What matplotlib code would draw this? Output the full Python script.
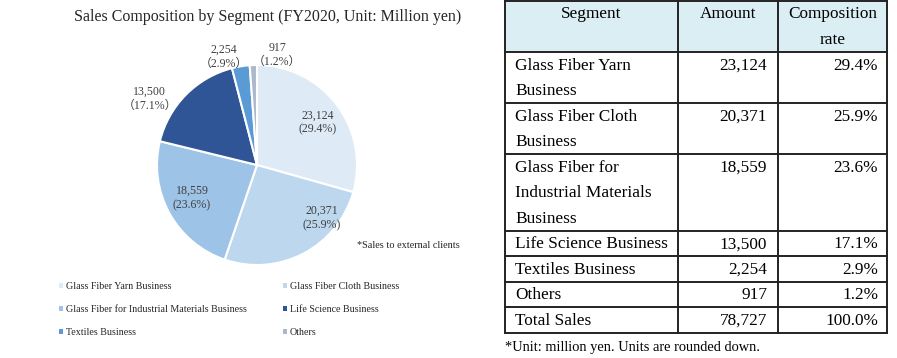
import numpy as np
import matplotlib
matplotlib.use("Agg")
from matplotlib import pyplot as plt
from matplotlib.patches import Patch, Rectangle

plt.rcParams['font.family'] = ['Liberation Serif', 'Noto Sans CJK JP']

segments = ["Glass Fiber Yarn Business", "Glass Fiber Cloth Business",
            "Glass Fiber for Industrial Materials Business", "Life Science Business",
            "Textiles Business", "Others"]
amounts = [23124, 20371, 18559, 13500, 2254, 917]
rates = [29.4, 25.9, 23.6, 17.1, 2.9, 1.2]

# table rows (segment name split into lines as in the source)
table_names = [["Glass Fiber Yarn", "Business"], ["Glass Fiber Cloth", "Business"],
               ["Glass Fiber for", "Industrial Materials", "Business"],
               ["Life Science Business"], ["Textiles Business"], ["Others"], ["Total Sales"]]
table_amounts = ["23,124", "20,371", "18,559", "13,500", "2,254", "917", "78,727"]
table_rates = ["29.4%", "25.9%", "23.6%", "17.1%", "2.9%", "1.2%", "100.0%"]

colors = ["#DEEBF7", "#BDD7EE", "#9DC3E6", "#2F5597", "#5B9BD5", "#ADB9CA"]
# label placement (radius fraction, angle shift in degrees) per slice
lab_r = [0.74, 0.84, 0.73, 1.26, 1.13, 1.12]
lab_shift = [-2, 23, -1.5, 13, 7.5, -12.5]
fullwidth = [False, False, False, True, True, True]

W, H = 897, 358
fig = plt.figure(figsize=(W / 100, H / 100), dpi=100)

# ---- pie ----
cx, cy, half = 257, 193, 120
ax = fig.add_axes([(cx - half) / W, (cy - half) / H, 2 * half / W, 2 * half / H])
wedges, _ = ax.pie(amounts, colors=colors, startangle=90, counterclock=False,
                   radius=1.0, wedgeprops=dict(edgecolor="white", linewidth=1.5))
ax.set_xlim(-1.2, 1.2)
ax.set_ylim(-1.2, 1.2)
ax.set_aspect("equal")
ax.axis("off")

for i, w in enumerate(wedges):
    ang = np.deg2rad((w.theta1 + w.theta2) / 2 + lab_shift[i])
    x, y = lab_r[i] * np.cos(ang), lab_r[i] * np.sin(ang)
    if fullwidth[i]:
        txt = f"{amounts[i]:,}\n（{rates[i]}%）"
    else:
        txt = f"{amounts[i]:,}\n({rates[i]}%)"
    ax.text(x, y, txt, ha="center", va="center", fontsize=8.6, color="#404040",
            linespacing=1.25)

fig.text(268 / W, 1 - 17 / H, "Sales Composition by Segment (FY2020, Unit: Million yen)",
         ha="center", va="center", fontsize=11.5, color="#262626")
fig.text(357 / W, 1 - 245 / H, "*Sales to external clients", ha="left", va="center",
         fontsize=7.4, color="#262626")

handles = [Patch(facecolor=c, edgecolor="none") for c in colors]
order = [0, 2, 4, 1, 3, 5]
fig.legend([handles[i] for i in order], [segments[i] for i in order], ncol=2,
           loc="upper left", bbox_to_anchor=(50 / W, 1 - 273 / H), frameon=False,
           fontsize=7.2, handlelength=0.35, handleheight=0.35, handletextpad=0.3,
           columnspacing=3.7, labelspacing=1.4, labelcolor="#262626")

# ---- table ----
ta = fig.add_axes([0, 0, 1, 1])
ta.set_xlim(0, W)
ta.set_ylim(H, 0)
ta.axis("off")

col_x = [505, 678, 778, 887]
top, bottom = 1, 333
n_lines = [2] + [len(n) for n in table_names]
pitch = (bottom - top) / sum(n_lines)
row_y = [top]
for n in n_lines:
    row_y.append(row_y[-1] + n * pitch)

ta.add_patch(Rectangle((col_x[0], row_y[0]), col_x[-1] - col_x[0], row_y[1] - row_y[0],
                       facecolor="#DAEEF3", edgecolor="none"))
for y in row_y:
    ta.plot([col_x[0], col_x[-1]], [y, y], color="#222222", lw=1.4, solid_capstyle="projecting")
for x in col_x:
    ta.plot([x, x], [row_y[0], row_y[-1]], color="#222222", lw=1.4, solid_capstyle="projecting")

fs = 12.4
off = 13.5
ta.text((col_x[0] + col_x[1]) / 2, row_y[0] + off, "Segment", ha="center", va="center", fontsize=fs)
ta.text((col_x[1] + col_x[2]) / 2, row_y[0] + off, "Amount", ha="center", va="center", fontsize=fs)
ta.text((col_x[2] + col_x[3]) / 2, row_y[0] + off, "Composition", ha="center", va="center", fontsize=fs)
ta.text((col_x[2] + col_x[3]) / 2, row_y[0] + off + pitch, "rate", ha="center", va="center", fontsize=fs)

for r, lines in enumerate(table_names):
    y0 = row_y[r + 1] + off
    for k, line in enumerate(lines):
        ta.text(col_x[0] + 10, y0 + k * pitch, line, ha="left", va="center", fontsize=fs)
    ta.text(col_x[2] - 11, y0, table_amounts[r], ha="right", va="center", fontsize=fs)
    ta.text(col_x[3] - 9, y0, table_rates[r], ha="right", va="center", fontsize=fs)

ta.text(col_x[0], 347, "*Unit: million yen. Units are rounded down.", ha="left", va="center",
        fontsize=10.4)

fig.savefig("out.png", dpi=100)
